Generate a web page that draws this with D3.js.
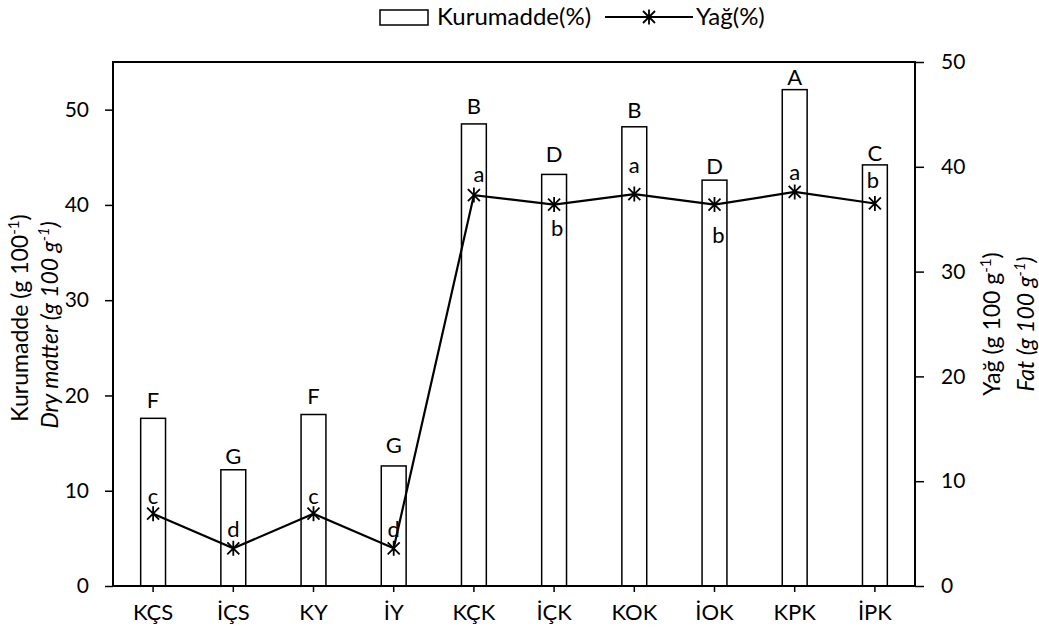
<!DOCTYPE html>
<html>
<head>
<meta charset="utf-8">
<script src="https://cdn.jsdelivr.net/npm/d3@7"></script>
<style>
  html, body { margin: 0; padding: 0; background: #fff; }
  svg { display: block; font-family: Lato, "Open Sans", sans-serif; }
</style>
</head>
<body>
<div id="chart"></div>
<script>
// data
const categories = ['KÇS', 'İÇS', 'KY', 'İY', 'KÇK', 'İÇK', 'KOK', 'İOK', 'KPK', 'İPK'];
const dryMatter = [17.6, 12.2, 18.0, 12.6, 48.5, 43.2, 48.2, 42.6, 52.1, 44.2];
const fat = [6.9, 3.6, 6.9, 3.6, 37.3, 36.4, 37.4, 36.4, 37.6, 36.5];
const dryLetters = ['F', 'G', 'F', 'G', 'B', 'D', 'B', 'D', 'A', 'C'];
const fatLetters = ['c', 'd', 'c', 'd', 'a', 'b', 'a', 'b', 'a', 'b'];
const leftTicks = [0, 10, 20, 30, 40, 50];
const rightTicks = [0, 10, 20, 30, 40, 50];

// layout
const width = 1039, height = 639;
const margin = { top: 62, right: 124, bottom: 53, left: 113 };
// placement of the significance letters (px)
const dryLabelGap = [10, 6, 11, 13, 10, 12, 9, 6, 5, 4];
const fatLabelDx = [0, 0, 0, 0, 5, 3, 0, 4, 0, -2];
const fatLabelDy = [-10, -11, -10, -11, -13, 31, -21, 38, -12, -15];

const svg = d3.select('#chart').append('svg')
  .attr('width', width)
  .attr('height', height);

const x = d3.scaleBand()
  .domain(categories)
  .range([margin.left, width - margin.right])
  .padding(0);
const yLeft = d3.scaleLinear().domain([0, 55]).range([height - margin.bottom, margin.top]);
const yRight = d3.scaleLinear().domain([0, 50]).range([height - margin.bottom, margin.top]);
const barW = x.bandwidth() * 0.31;
const cx = d => x(d) + x.bandwidth() / 2;

// bars
svg.append('g')
  .selectAll('rect')
  .data(categories)
  .enter()
  .append('rect')
  .attr('x', d => cx(d) - barW / 2)
  .attr('y', (d, i) => yLeft(dryMatter[i]))
  .attr('width', barW)
  .attr('height', (d, i) => yLeft(0) - yLeft(dryMatter[i]))
  .attr('fill', '#fff')
  .attr('stroke', '#000')
  .attr('stroke-width', 1.5);

svg.append('g')
  .selectAll('text')
  .data(categories)
  .enter()
  .append('text')
  .attr('x', d => cx(d))
  .attr('y', (d, i) => yLeft(dryMatter[i]) - dryLabelGap[i])
  .attr('text-anchor', 'middle')
  .style('font-size', '22px')
  .text((d, i) => dryLetters[i]);

// axes
const axisLeft = d3.axisLeft(yLeft).tickValues(leftTicks).tickSize(8).tickPadding(16);
const axisRight = d3.axisRight(yRight).tickValues(rightTicks).tickSize(9).tickPadding(17);
const axisBottom = d3.axisBottom(x).tickSize(6).tickPadding(12);

const styleAxis = (g, size) => {
  g.select('.domain').remove();
  g.selectAll('.tick line').attr('stroke', '#000').attr('stroke-width', 1.5);
  g.selectAll('.tick text').style('font-size', size).attr('fill', '#000')
    .style('font-family', 'Lato, "Open Sans", sans-serif');
};

svg.append('g').attr('transform', `translate(${margin.left},0)`).call(axisLeft).call(styleAxis, '21px');
svg.append('g').attr('transform', `translate(${width - margin.right},0)`).call(axisRight).call(styleAxis, '21px');
svg.append('g').attr('transform', `translate(0,${height - margin.bottom})`).call(axisBottom).call(styleAxis, '22px');

// plot frame
const frame = svg.append('g').attr('stroke', '#000').attr('fill', 'none').attr('stroke-width', 2);
frame.append('rect')
  .attr('x', margin.left).attr('y', margin.top)
  .attr('width', width - margin.left - margin.right)
  .attr('height', height - margin.top - margin.bottom);

// fat line
const line = d3.line()
  .x((d, i) => cx(categories[i]))
  .y(d => yRight(d));

svg.append('path')
  .datum(fat)
  .attr('d', line)
  .attr('fill', 'none')
  .attr('stroke', '#000')
  .attr('stroke-width', 2.2);

const starPath = s => `M${-s},${-s}L${s},${s}M${-s},${s}L${s},${-s}M0,${-s * 1.25}L0,${s * 1.25}`;

svg.append('g')
  .selectAll('path')
  .data(fat)
  .enter()
  .append('path')
  .attr('transform', (d, i) => `translate(${cx(categories[i])},${yRight(d)})`)
  .attr('d', starPath(6))
  .attr('fill', 'none')
  .attr('stroke', '#000')
  .attr('stroke-width', 1.8);

svg.append('g')
  .selectAll('text')
  .data(fat)
  .enter()
  .append('text')
  .attr('x', (d, i) => cx(categories[i]) + fatLabelDx[i])
  .attr('y', (d, i) => yRight(d) + fatLabelDy[i])
  .attr('text-anchor', 'middle')
  .style('font-size', '22px')
  .text((d, i) => fatLetters[i]);

// axis titles: rotated, two lines each, with a superscript -1
const axisTitle = (xPos, yPos, label, italic) => {
  const t = svg.append('text')
    .attr('transform', `translate(${xPos},${yPos}) rotate(-90)`)
    .attr('text-anchor', 'middle')
    .style('font-size', '23px')
    .style('font-style', italic ? 'italic' : 'normal');
  t.append('tspan').text(label);
  t.append('tspan').attr('dy', -9).style('font-size', '15px').text('-1');
  t.append('tspan').attr('dy', 9).text(')');
};

axisTitle(28, 318, 'Kurumadde (g 100', false);
axisTitle(58, 325, 'Dry matter (g 100 g', true);
axisTitle(1000, 324, 'Yağ (g 100 g', false);
axisTitle(1034, 324, 'Fat (g 100 g', true);

// legend
const legend = svg.append('g');
legend.append('rect')
  .attr('x', 380).attr('y', 10).attr('width', 48).attr('height', 15)
  .attr('fill', '#fff').attr('stroke', '#000').attr('stroke-width', 1.5);
legend.append('text')
  .attr('x', 437).attr('y', 25)
  .style('font-size', '24px')
  .text('Kurumadde(%)');
legend.append('line')
  .attr('x1', 605).attr('x2', 693).attr('y1', 17).attr('y2', 17)
  .attr('stroke', '#000').attr('stroke-width', 2);
legend.append('path')
  .attr('transform', 'translate(649,17)')
  .attr('d', starPath(6))
  .attr('fill', 'none').attr('stroke', '#000').attr('stroke-width', 1.8);
legend.append('text')
  .attr('x', 696).attr('y', 25)
  .style('font-size', '24px')
  .text('Yağ(%)');
</script>
</body>
</html>
